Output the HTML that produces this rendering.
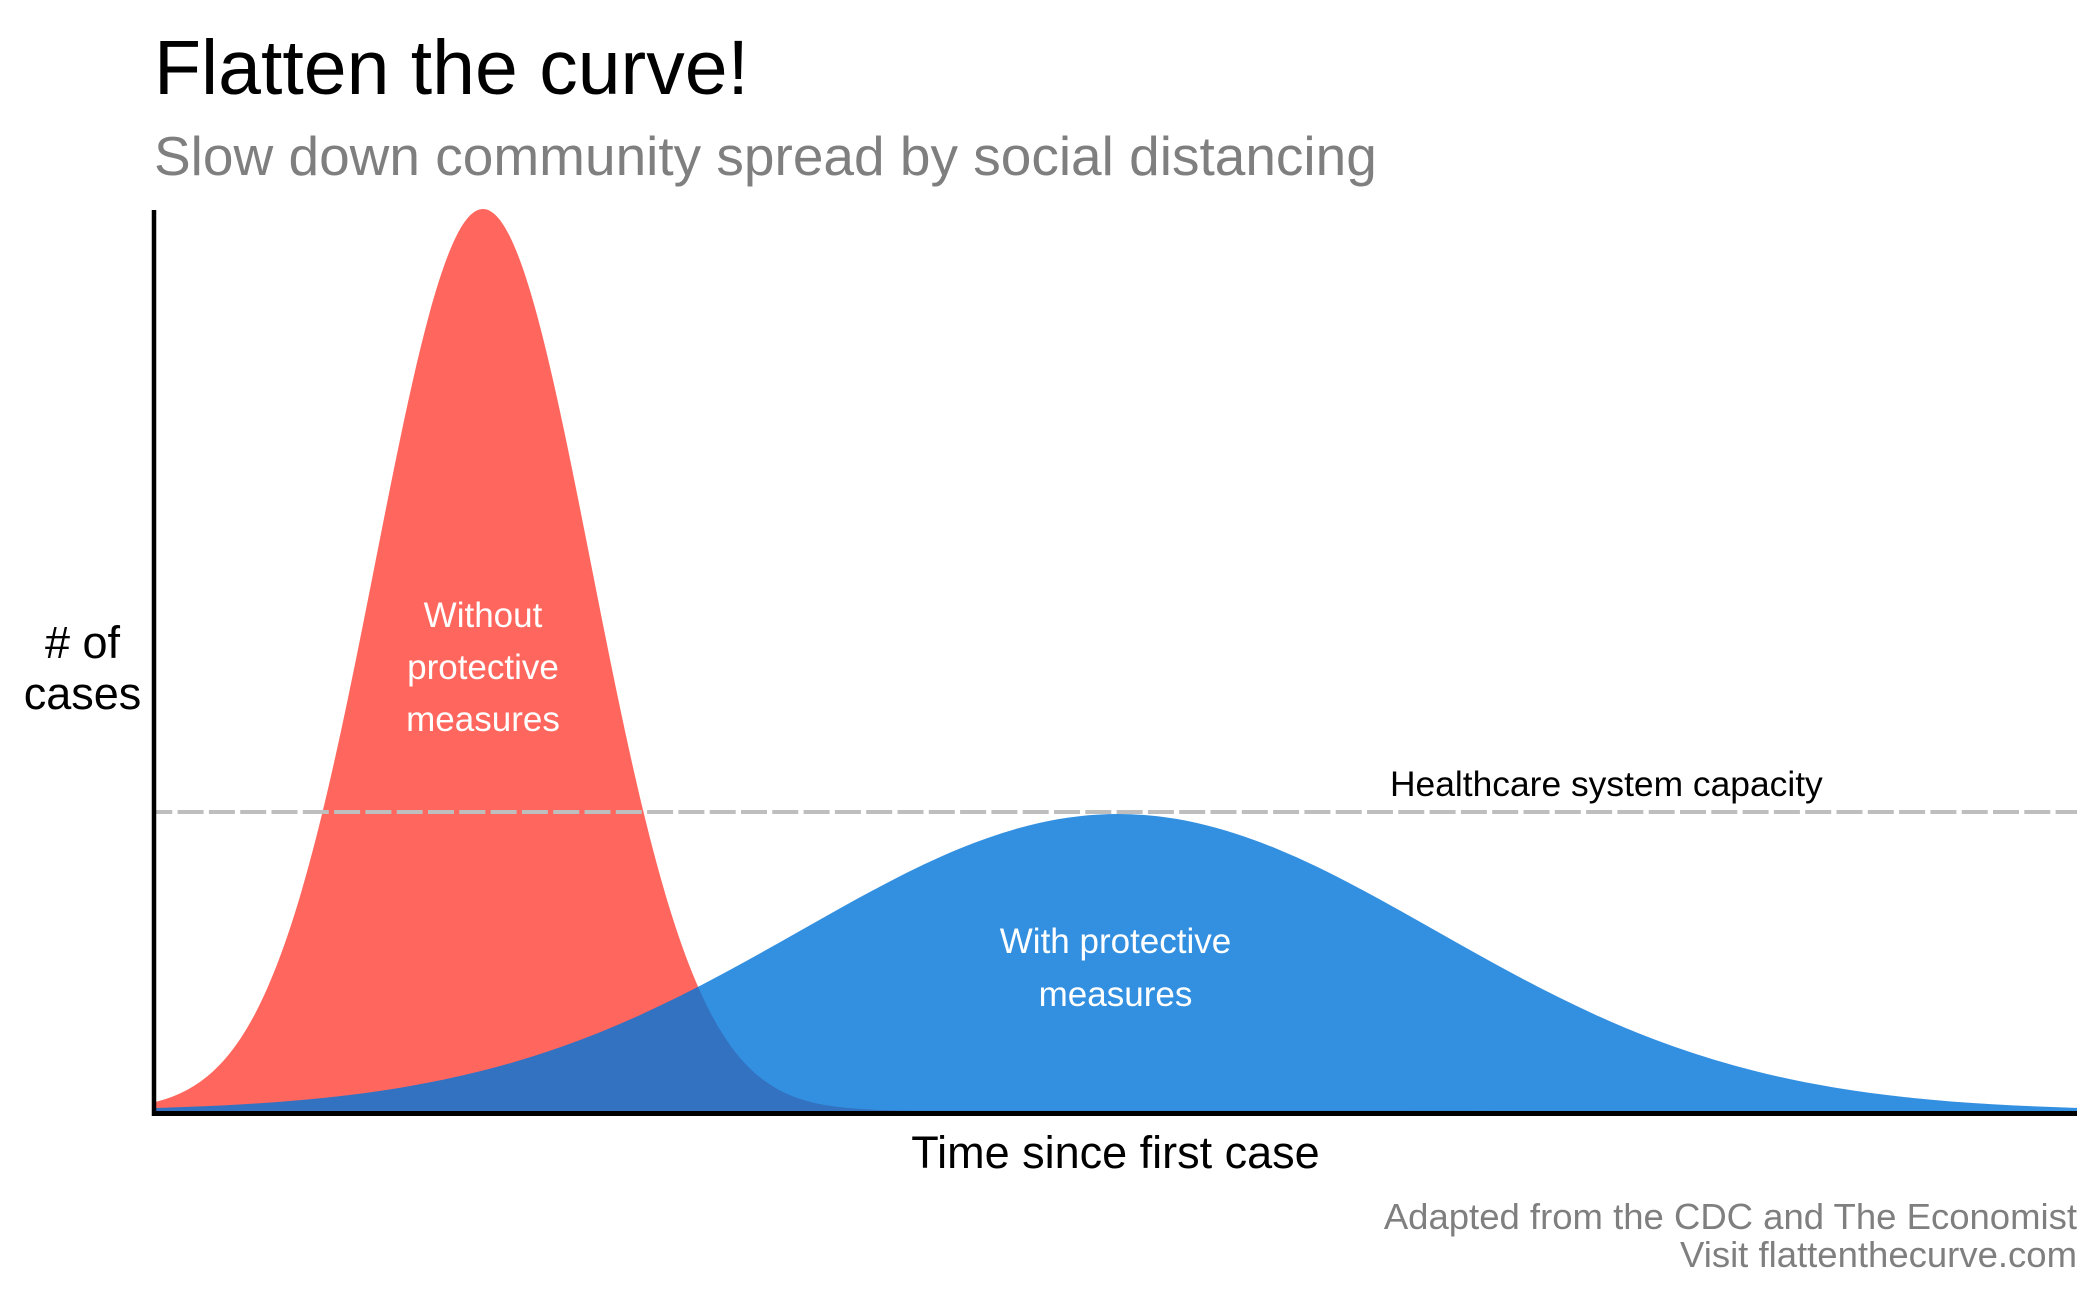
<!DOCTYPE html>
<html>
<head>
<meta charset="utf-8">
<style>
  html, body { margin: 0; padding: 0; background: #ffffff; }
  svg { display: block; }
  text { font-family: "Liberation Sans", Arial, sans-serif; }
</style>
</head>
<body>
<svg width="2100" height="1297" viewBox="0 0 2100 1297" xmlns="http://www.w3.org/2000/svg">
  <defs>
    <clipPath id="plotclip" clipPathUnits="userSpaceOnUse">
      <rect x="154" y="0" width="1923" height="1111"/>
    </clipPath>
    <path id="gauss" d="M -325 0 L -325 5.09
      C -316.67 6.47 -308.33 8.33 -300 11.11
      C -291.67 13.89 -283.33 17.57 -275 22.79
      C -266.67 28.01 -258.33 34.79 -250 43.94
      C -241.67 53.09 -233.33 64.64 -225 79.56
      C -216.67 94.48 -208.33 112.78 -200 135.34
      C -191.67 157.90 -183.33 184.73 -175 216.27
      C -166.67 247.81 -158.33 284.07 -150 324.65
      C -141.67 365.23 -133.33 410.14 -125 457.83
      C -116.67 505.52 -108.33 555.99 -100 606.53
      C -91.67 657.07 -83.33 707.66 -75 754.84
      C -66.67 802.02 -58.33 845.73 -50 882.50
      C -41.67 919.27 -33.33 949.04 -25 969.23
      C -16.67 989.42 -8.33 1000 0 1000
      C 8.33 1000 16.67 989.42 25 969.23
      C 33.33 949.04 41.67 919.27 50 882.50
      C 58.33 845.73 66.67 802.02 75 754.84
      C 83.33 707.66 91.67 657.07 100 606.53
      C 108.33 555.99 116.67 505.52 125 457.83
      C 133.33 410.14 141.67 365.23 150 324.65
      C 158.33 284.07 166.67 247.81 175 216.27
      C 183.33 184.73 191.67 157.90 200 135.34
      C 208.33 112.78 216.67 94.48 225 79.56
      C 233.33 64.64 241.67 53.09 250 43.94
      C 258.33 34.79 266.67 28.01 275 22.79
      C 283.33 17.57 291.67 13.89 300 11.11
      C 308.33 8.33 316.67 6.47 325 5.09
      C 333.33 3.71 341.67 2.83 350 2.19
      C 366.67 0.91 383.33 0.56 400 0.34
      L 1600 0 Z"/>
  </defs>

  <rect x="0" y="0" width="2100" height="1297" fill="#ffffff"/>

  <!-- Title & subtitle -->
  <text x="154" y="94" font-size="77" fill="#000000">Flatten the curve!</text>
  <text x="154" y="175" font-size="55" fill="#7f7f7f">Slow down community spread by social distancing</text>

  <!-- Curves -->
  <g clip-path="url(#plotclip)">
    <use href="#gauss" transform="translate(483,1111) scale(1.08,-0.902)" fill="#FF4136" fill-opacity="0.8"/>
    <use href="#gauss" transform="translate(1118,1111) scale(3.18,-0.297)" fill="#0074D9" fill-opacity="0.8"/>
  </g>

  <!-- Capacity line -->
  <line x1="154" y1="812" x2="2077" y2="812" stroke="#bebebe" stroke-width="4" stroke-dasharray="26 5.3" stroke-dashoffset="7.7"/>
  <text x="1390" y="796" font-size="35.4" fill="#000000">Healthcare system capacity</text>

  <!-- Annotations -->
  <g font-size="35" fill="#ffffff" text-anchor="middle">
    <text x="483" y="627">Without</text>
    <text x="483" y="679">protective</text>
    <text x="483" y="731">measures</text>
    <text x="1115.5" y="953">With protective</text>
    <text x="1115.5" y="1006">measures</text>
  </g>

  <!-- Axes -->
  <line x1="154" y1="210" x2="154" y2="1116" stroke="#000000" stroke-width="4.5"/>
  <line x1="152" y1="1113.5" x2="2077" y2="1113.5" stroke="#000000" stroke-width="5"/>

  <!-- Axis titles -->
  <g font-size="45" fill="#000000" text-anchor="middle">
    <text x="82.5" y="658"># of</text>
    <text x="82.5" y="709">cases</text>
    <text x="1115.5" y="1168">Time since first case</text>
  </g>

  <!-- Caption -->
  <g font-size="36.5" fill="#7f7f7f" text-anchor="end">
    <text x="2077" y="1229">Adapted from the CDC and The Economist</text>
    <text x="2077" y="1267">Visit flattenthecurve.com</text>
  </g>
</svg>
</body>
</html>
